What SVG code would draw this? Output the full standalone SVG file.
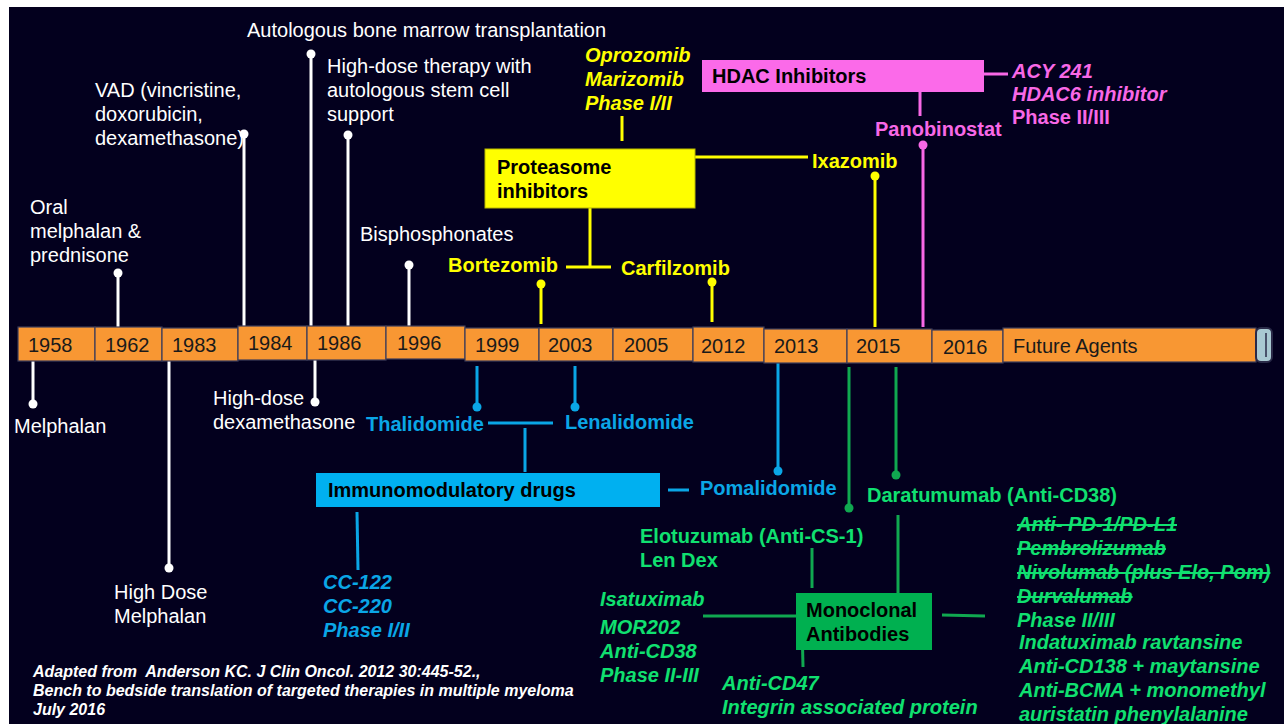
<svg xmlns="http://www.w3.org/2000/svg" width="1284" height="724" viewBox="0 0 1284 724">
<style>
text{font-family:"Liberation Sans",Arial,sans-serif;font-size:20px}
.w{fill:#ffffff}
.b{font-weight:bold}
.bi{font-weight:bold;font-style:italic}
.y{fill:#ffff00}
.pk{fill:#f868e6}
.bl{fill:#0aa6e6}
.gr{fill:#10e070}
.blk{fill:#000000}
.yr{fill:#1a1a1a;font-size:20px}
.cell{fill:#f89733;stroke:#3c3c5a;stroke-width:1.2}
.lw{stroke:#ffffff;stroke-width:3;fill:none}
.ly{stroke:#ffff00;stroke-width:3;fill:none}
.lp{stroke:#f868e6;stroke-width:3;fill:none}
.lb{stroke:#0aa6e6;stroke-width:3;fill:none}
.lg{stroke:#10a850;stroke-width:3;fill:none}
.st{text-decoration:line-through}
.cr{font-size:16px;font-weight:bold;font-style:italic;fill:#ffffff;white-space:pre}
</style>
<rect x="0" y="0" width="1284" height="724" fill="#ffffff"/>
<rect x="9" y="7" width="1275" height="717" fill="#03001e"/>

<g id="connectors">
<line class="lw" x1="118" y1="273" x2="118" y2="328"/><circle cx="118" cy="273" r="4.5" fill="#fff"/>
<line class="lw" x1="244" y1="134" x2="244" y2="328"/><circle cx="244" cy="134" r="4.5" fill="#fff"/>
<line class="lw" x1="311" y1="54" x2="311" y2="327"/><circle cx="311" cy="54" r="4.5" fill="#fff"/>
<line class="lw" x1="348" y1="135" x2="348" y2="327"/><circle cx="348" cy="135" r="4.5" fill="#fff"/>
<line class="lw" x1="409" y1="265" x2="409" y2="327"/><circle cx="409" cy="265" r="4.5" fill="#fff"/>
<line class="lw" x1="33" y1="360" x2="33" y2="404"/><circle cx="33" cy="404" r="4.5" fill="#fff"/>
<line class="lw" x1="169" y1="360" x2="169" y2="568"/><circle cx="169" cy="568" r="4.5" fill="#fff"/>
<line class="lw" x1="315" y1="358" x2="315" y2="402"/><circle cx="315" cy="402" r="4.5" fill="#fff"/>
<line class="ly" x1="622" y1="116" x2="622" y2="141"/>
<line class="ly" x1="695" y1="157" x2="808" y2="157"/>
<line class="ly" x1="590" y1="208" x2="590" y2="267"/>
<line class="ly" x1="566" y1="267" x2="611" y2="267"/>
<line class="ly" x1="541" y1="284" x2="541" y2="324"/><circle cx="541" cy="284" r="4.5" fill="#ffff00"/>
<line class="ly" x1="712" y1="282" x2="712" y2="322"/><circle cx="712" cy="282" r="4.5" fill="#ffff00"/>
<line class="ly" x1="875" y1="176" x2="875" y2="327"/><circle cx="875" cy="176" r="4.5" fill="#ffff00"/>
<line class="lp" x1="984" y1="74" x2="1008" y2="74"/>
<line class="lp" x1="920" y1="92" x2="920" y2="116"/>
<line class="lp" x1="923" y1="145" x2="923" y2="327"/><circle cx="923" cy="145" r="4.5" fill="#f868e6"/>
<line class="lb" x1="477" y1="366" x2="477" y2="407"/><circle cx="477" cy="407" r="4.5" fill="#0aa6e6"/>
<line class="lb" x1="575" y1="366" x2="575" y2="407"/><circle cx="575" cy="407" r="4.5" fill="#0aa6e6"/>
<line class="lb" x1="488" y1="423" x2="553" y2="423"/>
<line class="lb" x1="525" y1="428" x2="525" y2="472"/>
<line class="lb" x1="668" y1="490" x2="689" y2="490"/>
<line class="lb" x1="778" y1="362" x2="778" y2="471"/><circle cx="778" cy="471" r="4.5" fill="#0aa6e6"/>
<line class="lb" x1="357" y1="512" x2="358" y2="570"/>
<line class="lg" x1="849" y1="367" x2="849" y2="508"/><circle cx="849" cy="508" r="4.5" fill="#10a850"/>
<line class="lg" x1="896" y1="367" x2="896" y2="475"/><circle cx="896" cy="475" r="4.5" fill="#10a850"/>
<line class="lg" x1="812" y1="548" x2="812" y2="588"/>
<line class="lg" x1="898" y1="515" x2="898" y2="593"/>
<line class="lg" x1="703" y1="616" x2="796" y2="616"/>
<line class="lg" x1="802" y1="622" x2="803" y2="667"/>
<line class="lg" x1="942" y1="615" x2="985" y2="616"/>
</g>

<g id="timeline">
<rect class="cell" x="18" y="327" width="77" height="34"/>
<rect class="cell" x="95" y="327" width="67" height="34"/>
<rect class="cell" x="162" y="328" width="76" height="33"/>
<rect class="cell" x="238" y="326" width="69" height="34"/>
<rect class="cell" x="307" y="326" width="79" height="34"/>
<rect class="cell" x="386" y="326" width="79" height="33"/>
<rect class="cell" x="465" y="328" width="74" height="33"/>
<rect class="cell" x="539" y="328" width="74" height="33"/>
<rect class="cell" x="613" y="328" width="80" height="33"/>
<rect class="cell" x="693" y="327" width="71" height="35"/>
<rect class="cell" x="764" y="329" width="83" height="34"/>
<rect class="cell" x="847" y="329" width="85" height="34"/>
<rect class="cell" x="932" y="330" width="71" height="33"/>
<rect class="cell" x="1003" y="328" width="253" height="34"/>
<rect x="1256" y="328" width="16" height="34" rx="5" fill="#a9c9d2" stroke="#2a2a48" stroke-width="2"/>
<line x1="1266" y1="333" x2="1266" y2="357" stroke="#2a2a48" stroke-width="1.5"/>
<text class="yr" x="28" y="352">1958</text>
<text class="yr" x="105" y="352">1962</text>
<text class="yr" x="172" y="352">1983</text>
<text class="yr" x="248" y="350">1984</text>
<text class="yr" x="317" y="350">1986</text>
<text class="yr" x="397" y="350">1996</text>
<text class="yr" x="475" y="352">1999</text>
<text class="yr" x="548" y="352">2003</text>
<text class="yr" x="624" y="352">2005</text>
<text class="yr" x="701" y="353">2012</text>
<text class="yr" x="774" y="353">2013</text>
<text class="yr" x="856" y="353">2015</text>
<text class="yr" x="943" y="354">2016</text>
<text class="yr" x="1013" y="353">Future Agents</text>
</g>

<g id="white-labels">
<text class="w" x="30" y="214">Oral</text>
<text class="w" x="30" y="238">melphalan &amp;</text>
<text class="w" x="30" y="262">prednisone</text>
<text class="w" x="95" y="97">VAD (vincristine,</text>
<text class="w" x="95" y="121">doxorubicin,</text>
<text class="w" x="95" y="145">dexamethasone)</text>
<text class="w" x="247" y="37">Autologous bone marrow transplantation</text>
<text class="w" x="327" y="73">High-dose therapy with</text>
<text class="w" x="327" y="97">autologous stem cell</text>
<text class="w" x="327" y="121">support</text>
<text class="w" x="360" y="241">Bisphosphonates</text>
<text class="w" x="14" y="433">Melphalan</text>
<text class="w" x="114" y="599">High Dose</text>
<text class="w" x="114" y="623">Melphalan</text>
<text class="w" x="213" y="405">High-dose</text>
<text class="w" x="213" y="429">dexamethasone</text>
</g>

<g id="proteasome">
<rect x="485" y="149" width="210" height="59" fill="#ffff00" stroke="#b8b800" stroke-width="1"/>
<text class="b blk" x="497" y="174">Proteasome</text>
<text class="b blk" x="497" y="198">inhibitors</text>
<text class="bi y" x="585" y="62">Oprozomib</text>
<text class="bi y" x="585" y="86">Marizomib</text>
<text class="bi y" x="585" y="110">Phase I/II</text>
<text class="b y" x="812" y="168">Ixazomib</text>
<text class="b y" x="448" y="272">Bortezomib</text>
<text class="b y" x="621" y="275">Carfilzomib</text>
</g>

<g id="hdac">
<rect x="702" y="60" width="282" height="32" fill="#fb6ae9"/>
<text class="b blk" x="712" y="83">HDAC Inhibitors</text>
<text class="bi pk" x="1012" y="78">ACY 241</text>
<text class="bi pk" x="1012" y="101">HDAC6 inhibitor</text>
<text class="b pk" x="1012" y="124">Phase II/III</text>
<text class="b pk" x="875" y="136">Panobinostat</text>
</g>

<g id="imids">
<rect x="316" y="473" width="344" height="34" fill="#00b0f0"/>
<text class="b blk" x="328" y="497">Immunomodulatory drugs</text>
<text class="b bl" x="366" y="431">Thalidomide</text>
<text class="b bl" x="565" y="429">Lenalidomide</text>
<text class="b bl" x="700" y="495">Pomalidomide</text>
<text class="bi bl" x="323" y="589">CC-122</text>
<text class="bi bl" x="323" y="613">CC-220</text>
<text class="bi bl" x="323" y="637">Phase I/II</text>
</g>

<g id="mabs">
<rect x="796" y="593" width="136" height="57" fill="#00b050"/>
<text class="b blk" x="806" y="617">Monoclonal</text>
<text class="b blk" x="806" y="641">Antibodies</text>
<text class="b gr" x="867" y="502">Daratumumab (Anti-CD38)</text>
<text class="b gr" x="640" y="543">Elotuzumab (Anti-CS-1)</text>
<text class="b gr" x="640" y="567">Len Dex</text>
<text class="bi gr" x="600" y="606">Isatuximab</text>
<text class="bi gr" x="600" y="634">MOR202</text>
<text class="bi gr" x="600" y="658">Anti-CD38</text>
<text class="bi gr" x="600" y="682">Phase II-III</text>
<text class="bi gr" x="722" y="690">Anti-CD47</text>
<text class="bi gr" x="722" y="714">Integrin associated protein</text>
<text class="bi gr st" x="1017" y="531">Anti- PD-1/PD-L1</text>
<text class="bi gr st" x="1017" y="555">Pembrolizumab</text>
<text class="bi gr st" x="1017" y="579">Nivolumab (plus Elo, Pom)</text>
<text class="bi gr st" x="1017" y="603">Durvalumab</text>
<text class="bi gr" x="1017" y="627">Phase II/III</text>
<text class="bi gr" x="1019" y="649">Indatuximab ravtansine</text>
<text class="bi gr" x="1019" y="673">Anti-CD138 + maytansine</text>
<text class="bi gr" x="1019" y="697">Anti-BCMA + monomethyl</text>
<text class="bi gr" x="1019" y="721">auristatin phenylalanine</text>
</g>

<g id="credit">
<text class="cr" x="33" y="677">Adapted from  Anderson KC. J Clin Oncol. 2012 30:445-52.,</text>
<text class="cr" x="33" y="696">Bench to bedside translation of targeted therapies in multiple myeloma</text>
<text class="cr" x="33" y="715">July 2016</text>
</g>
</svg>
